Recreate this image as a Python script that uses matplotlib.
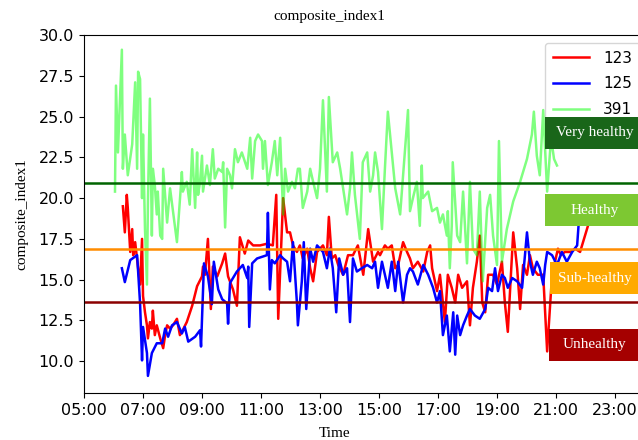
import pandas as pd
import matplotlib
matplotlib.use("Agg")
import matplotlib.pyplot as plt
import matplotlib.dates as mdates
from matplotlib.patches import Rectangle

DAY = "2021-01-01 "

# series 123 (red)
t_123 = ["06:19", "06:23", "06:27", "06:29", "06:34", "06:38", "06:40", "06:44", "06:50", "06:54",
         "06:58", "07:00", "07:04", "07:08", "07:10", "07:14", "07:18", "07:20", "07:24", "07:28",
         "07:35", "07:41", "07:45", "07:49", "07:55", "08:01", "08:09", "08:15", "08:19", "08:29",
         "08:40", "08:50", "09:00", "09:02", "09:06", "09:12", "09:18", "09:22", "09:31", "09:41",
         "09:47", "09:53", "10:03", "10:11", "10:17", "10:27", "10:34", "10:44", "10:58", "11:12",
         "11:24", "11:31", "11:35", "11:45", "11:53", "11:59", "12:05", "12:13", "12:19", "12:25",
         "12:34", "12:40", "12:46", "12:54", "13:00", "13:06", "13:14", "13:18", "13:24", "13:31",
         "13:37", "13:47", "13:57", "14:07", "14:17", "14:28", "14:38", "14:48", "14:58", "15:02",
         "15:12", "15:18", "15:26", "15:33", "15:39", "15:49", "15:57", "16:03", "16:09", "16:19",
         "16:30", "16:38", "16:44", "16:48", "16:58", "17:04", "17:14", "17:20", "17:28", "17:35",
         "17:41", "17:49", "17:59", "18:05", "18:11", "18:19", "18:25", "18:30", "18:36", "18:42",
         "18:52", "19:00", "19:10", "19:16", "19:22", "19:33", "19:41", "19:47", "19:53", "20:01",
         "20:07", "20:13", "20:23", "20:34", "20:42", "20:52", "20:58", "21:04", "21:10", "21:18",
         "21:29", "21:39", "21:49", "21:55", "22:05", "22:09"]
v_123 = [19.5, 17.9, 20.2, 19.4, 16.7, 18.1, 16.5, 17.3, 15.7, 14.7,
         17.5, 14.0, 13.0, 12.2, 11.4, 12.4, 12.0, 13.1, 11.6, 12.2,
         11.4, 10.8, 11.6, 12.2, 12.0, 12.2, 12.6, 11.6, 11.8, 12.4,
         13.4, 14.6, 15.2, 15.8, 15.3, 17.5, 13.2, 15.8, 15.2, 16.0,
         16.6, 15.2, 14.4, 13.4, 17.6, 16.6, 17.4, 17.1, 17.1, 17.2,
         17.1, 20.2, 12.6, 20.0, 17.9, 17.9, 17.1, 16.7, 17.1, 16.3,
         16.9, 15.7, 14.9, 16.7, 16.9, 17.1, 16.5, 18.85, 16.3, 16.5,
         15.9, 15.3, 16.5, 16.5, 17.1, 15.3, 18.1, 16.1, 16.7, 16.5,
         17.1, 16.9, 17.1, 15.7, 15.9, 17.3, 16.7, 16.3, 15.7, 16.1,
         15.5, 16.7, 17.1, 15.7, 14.3, 15.3, 12.4, 15.3, 14.5, 13.6,
         15.3, 14.5, 14.9, 12.2, 14.5, 16.1, 17.7, 13.6, 13.0, 15.3,
         15.3, 14.7, 16.1, 13.6, 11.8, 17.9, 15.7, 13.2, 15.9, 15.3,
         16.5, 15.7, 15.3, 15.3, 10.6, 15.3, 16.1, 16.9, 16.5, 16.7,
         16.7, 16.9, 16.7, 17.3, 18.3, 18.6]

# series 125 (blue)
t_125 = ["06:17", "06:23", "06:34", "06:48", "06:54", "06:58", "07:00", "07:08", "07:10", "07:18",
         "07:28", "07:39", "07:45", "07:51", "07:59", "08:09", "08:19", "08:25", "08:32", "08:46",
         "08:56", "08:58", "09:04", "09:12", "09:20", "09:24", "09:33", "09:41", "09:51", "09:53",
         "09:57", "10:11", "10:23", "10:32", "10:34", "10:36", "10:42", "10:52", "11:12", "11:14",
         "11:18", "11:22", "11:28", "11:39", "11:45", "11:53", "11:59", "12:05", "12:13", "12:15",
         "12:23", "12:27", "12:32", "12:40", "12:46", "12:54", "13:00", "13:06", "13:14", "13:20",
         "13:26", "13:33", "13:39", "13:47", "13:55", "14:01", "14:07", "14:15", "14:25", "14:36",
         "14:46", "14:52", "14:58", "15:06", "15:12", "15:18", "15:26", "15:33", "15:39", "15:49",
         "15:57", "16:03", "16:09", "16:19", "16:30", "16:40", "16:50", "16:58", "17:04", "17:10",
         "17:18", "17:24", "17:31", "17:35", "17:39", "17:45", "17:51", "17:59", "18:05", "18:15",
         "18:25", "18:36", "18:42", "18:50", "18:56", "19:02", "19:10", "19:16", "19:22", "19:31",
         "19:41", "19:51", "20:01", "20:07", "20:13", "20:21", "20:27", "20:34", "20:38", "20:42",
         "20:52", "21:02", "21:12", "21:22", "21:33", "21:43", "21:47"]
v_125 = [15.7, 14.85, 16.2, 16.5, 13.55, 10.05, 12.1, 10.5, 9.1, 10.5,
         11.1, 11.1, 12.0, 11.5, 12.2, 12.4, 11.7, 12.1, 11.2, 11.5,
         11.9, 10.9, 16.0, 15.2, 13.5, 16.1, 14.4, 13.8, 13.55, 12.3,
         14.8, 15.5, 15.9, 15.1, 15.8, 12.1, 16.0, 16.3, 16.5, 19.1,
         14.4, 16.2, 16.0, 16.5, 16.3, 16.1, 14.9, 17.3, 13.6, 12.2,
         14.9, 17.3, 13.2, 16.9, 16.1, 17.1, 16.9, 16.7, 15.7, 16.9,
         15.7, 13.0, 16.3, 15.3, 15.7, 12.4, 16.3, 15.5, 15.7, 15.9,
         15.7, 16.1, 14.5, 16.1, 15.3, 14.5, 16.1, 14.3, 16.1, 13.6,
         15.3, 15.7, 15.5, 14.7, 15.9, 15.3, 14.5, 13.6, 14.3, 11.6,
         12.8, 10.6, 13.0, 10.4, 12.8, 11.6, 12.2, 12.8, 13.2, 12.8,
         12.6, 13.2, 14.5, 14.3, 15.7, 14.3, 15.3, 15.1, 14.5, 15.1,
         14.9, 14.5, 17.9, 16.1, 15.3, 16.1, 15.7, 14.7, 15.9, 16.7,
         16.5, 15.9, 16.7, 16.1, 16.7, 17.1, 18.8]

# series 391 (light green)
t_391 = ["06:03", "06:05", "06:09", "06:17", "06:19", "06:23", "06:29", "06:38", "06:44", "06:48",
         "06:50", "06:54", "06:58", "07:00", "07:04", "07:08", "07:10", "07:14", "07:18", "07:20",
         "07:24", "07:28", "07:30", "07:35", "07:39", "07:41", "07:49", "07:55", "08:01", "08:09",
         "08:19", "08:21", "08:29", "08:35", "08:40", "08:46", "08:50", "08:52", "08:56", "09:00",
         "09:02", "09:10", "09:16", "09:22", "09:26", "09:33", "09:41", "09:43", "09:47", "09:51",
         "09:57", "10:01", "10:07", "10:13", "10:21", "10:32", "10:38", "10:42", "10:48", "10:54",
         "11:02", "11:04", "11:08", "11:14", "11:22", "11:28", "11:33", "11:39", "11:45", "11:49",
         "11:55", "12:03", "12:09", "12:15", "12:19", "12:25", "12:34", "12:40", "12:46", "12:54",
         "13:00", "13:06", "13:14", "13:18", "13:26", "13:35", "13:41", "13:47", "13:55", "14:01",
         "14:05", "14:11", "14:21", "14:27", "14:36", "14:42", "14:48", "14:52", "14:58", "15:06",
         "15:12", "15:18", "15:26", "15:33", "15:43", "15:49", "15:59", "16:03", "16:09", "16:17",
         "16:23", "16:27", "16:29", "16:40", "16:48", "16:58", "17:04", "17:10", "17:18", "17:20",
         "17:24", "17:28", "17:30", "17:39", "17:45", "17:51", "17:59", "18:05", "18:11", "18:19",
         "18:25", "18:31", "18:40", "18:46", "18:52", "19:00", "19:04", "19:10", "19:20", "19:33",
         "19:47", "20:01", "20:11", "20:15", "20:21", "20:27", "20:34", "20:42", "20:50", "20:56",
         "21:02"]
v_391 = [20.4, 26.9, 22.8, 29.1, 21.8, 23.9, 21.4, 23.3, 27.1, 21.8,
         27.75, 27.3, 20.0, 23.9, 18.1, 14.7, 19.8, 26.1, 17.7, 21.8,
         20.8, 19.0, 20.4, 17.7, 17.5, 21.8, 18.5, 20.6, 19.2, 17.3,
         21.6, 20.4, 21.0, 19.6, 23.0, 19.4, 22.8, 20.2, 21.0, 22.6,
         20.4, 22.0, 20.8, 23.0, 21.2, 21.8, 21.6, 22.2, 18.2, 21.8,
         21.4, 20.6, 23.0, 22.2, 22.8, 21.8, 23.7, 21.2, 23.5, 23.9,
         23.5, 21.8, 23.5, 20.8, 22.2, 23.5, 21.4, 23.7, 19.0, 21.8,
         20.4, 21.0, 20.6, 21.8, 21.8, 19.4, 20.4, 21.8, 21.0, 20.0,
         21.8, 26.0, 20.4, 26.2, 22.2, 22.8, 21.8, 20.6, 19.0, 20.6,
         22.8, 20.2, 17.5, 22.2, 22.8, 20.4, 21.4, 22.8, 21.6, 18.1,
         21.8, 25.3, 22.8, 20.6, 19.0, 21.4, 25.4, 19.2, 20.0, 21.0,
         18.3, 22.0, 20.0, 20.4, 19.2, 19.4, 18.5, 19.0, 17.7, 19.2,
         15.7, 18.3, 22.2, 17.7, 17.3, 20.4, 16.0, 21.0, 16.9, 16.5,
         20.4, 14.9, 19.4, 20.2, 17.7, 15.9, 23.5, 16.1, 18.1, 19.8,
         21.0, 22.4, 23.9, 25.3, 22.6, 21.4, 25.4, 20.4, 23.7, 22.4,
         22.0]

series_names = ["123", "125", "391"]
series_times = [t_123, t_125, t_391]
series_values = [v_123, v_125, v_391]

# health thresholds and their labels
level_values = [20.9, 16.85, 13.65]
level_colors = ["darkgreen", "darkorange", "darkred"]
band_labels = ["Very healthy", "Healthy", "Sub-healthy", "Unhealthy"]
band_colors = ["#196619", "#7dc832", "#ffaa00", "#a50000"]
band_centers = [24.0, 19.25, 15.1, 11.0]
band_left = ["20:38", "20:38", "20:48", "20:46"]


def to_time(ts):
    return pd.to_datetime([DAY + t for t in ts])


fig = plt.figure(figsize=(6.38, 4.4), dpi=100)
ax = fig.add_axes([0.1317, 0.1068, 0.8777, 0.8136])

line_styles = [dict(color="red"), dict(color="blue"), dict(color="lime", alpha=0.5)]
for name, ts, vs, st in zip(series_names, series_times, series_values, line_styles):
    ax.plot(to_time(ts), vs, lw=1.8, label=name, **st)

for val, col in zip(level_values, level_colors):
    ax.axhline(val, color=col, lw=1.8)

# coloured label boxes on the right
x_end = mdates.date2num(pd.Timestamp(DAY + "23:59"))
x_mid = mdates.date2num(pd.Timestamp(DAY + "22:19"))
for lab, col, yc, left in zip(band_labels, band_colors, band_centers, band_left):
    x0 = mdates.date2num(pd.Timestamp(DAY + left))
    ax.add_patch(Rectangle((x0, yc - 0.98), x_end - x0, 1.96, facecolor=col,
                           edgecolor="none", zorder=6, clip_on=False))
    ax.text(x_mid, yc, lab, color="white", ha="center", va="center",
            family="Liberation Serif", fontsize=11, zorder=7)

ax.set_xlim(pd.Timestamp(DAY + "05:00"), pd.Timestamp(DAY + "23:59"))
ax.set_ylim(8.05, 30.0)
ax.set_yticks([10.0, 12.5, 15.0, 17.5, 20.0, 22.5, 25.0, 27.5, 30.0])
ax.yaxis.set_major_formatter(plt.FormatStrFormatter("%.1f"))
ax.xaxis.set_major_locator(mdates.HourLocator(byhour=range(5, 24, 2)))
ax.xaxis.set_major_formatter(mdates.DateFormatter("%H:%M"))
ax.tick_params(labelsize=11.5)

ax.set_title("composite_index1", family="Liberation Serif", fontsize=11, x=0.4375, pad=11)
ax.set_ylabel("composite_index1", family="Liberation Serif", fontsize=11)
ax.yaxis.set_label_coords(-0.10, 0.5)
ax.set_xlabel("Time", family="Liberation Serif", fontsize=11)
ax.xaxis.set_label_coords(0.448, -0.095)

ax.legend(loc="upper left", bbox_to_anchor=(0.823, 0.978), borderaxespad=0,
          fontsize=11, labelspacing=0.7, handlelength=2.4, handletextpad=0.9,
          borderpad=0.5)

fig.savefig("out.png", dpi=100)
